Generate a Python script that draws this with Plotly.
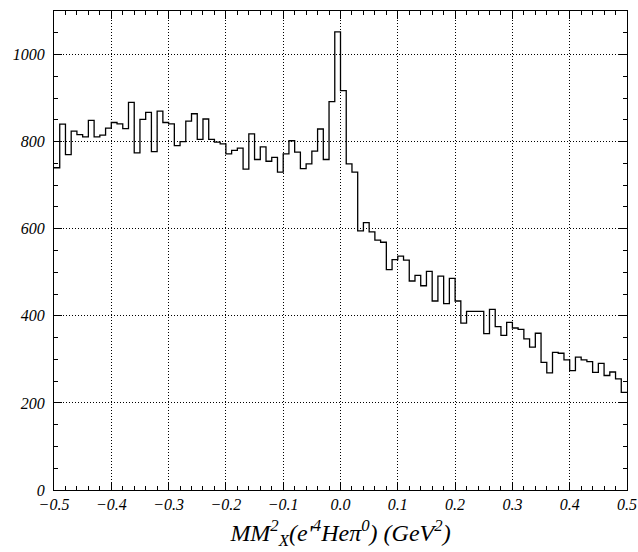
import plotly.graph_objects as go

# Histogram: 100 bins from -0.5 to 0.5 (width 0.01)
bin_start = -0.5
bin_width = 0.01
counts = [
    740, 840, 770, 824, 816, 811, 849, 811, 815, 831,
    844, 841, 830, 890, 774, 851, 867, 777, 870, 844,
    841, 791, 800, 847, 864, 805, 852, 805, 799, 795,
    772, 780, 785, 737, 818, 759, 788, 755, 764, 730,
    772, 802, 776, 738, 749, 778, 829, 759, 892, 1052,
    917, 749, 730, 595, 614, 593, 574, 569, 506, 529,
    537, 528, 480, 493, 469, 502, 434, 491, 428, 486,
    434, 383, 410, 410, 410, 359, 415, 375, 355, 385,
    372, 369, 347, 328, 360, 293, 269, 316, 314, 299,
    274, 305, 299, 295, 270, 291, 263, 271, 255, 224,
]
x_ticks = [-0.5, -0.4, -0.3, -0.2, -0.1, 0.0, 0.1, 0.2, 0.3, 0.4, 0.5]
y_ticks = [0, 200, 400, 600, 800, 1000]

edges = [round(bin_start + i * bin_width, 4) for i in range(len(counts) + 1)]
xs = edges
ys = counts + [counts[-1]]

font_family = "Liberation Serif"

fig = go.Figure()
fig.add_trace(go.Scatter(
    x=xs, y=ys, mode="lines", line=dict(shape="hv", color="black", width=1.3),
    hoverinfo="skip", showlegend=False,
))

fig.update_layout(
    width=638, height=552,
    margin=dict(l=54, r=11, t=11, b=62),
    paper_bgcolor="white", plot_bgcolor="white",
    font=dict(family=font_family, color="black"),
)
fig.update_xaxes(
    range=[-0.5, 0.5], tickvals=x_ticks, tickformat=".1f",
    ticks="inside", ticklen=8, tickwidth=1, tickcolor="black",
    minor=dict(dtick=0.02, ticks="inside", ticklen=4, tickcolor="black", showgrid=False),
    showline=True, linecolor="black", linewidth=1.2, mirror="allticks",
    showgrid=True, gridcolor="black", griddash="1px,2px", gridwidth=1,
    zeroline=False, automargin=False, ticklabeloverflow="allow",
    tickfont=dict(family=font_family, size=16, style="italic"),
    title=dict(
        text="MM<sup>2</sup><sub>X</sub>(e'<sup>4</sup>Heπ<sup>0</sup>) (GeV<sup>2</sup>)",
        font=dict(family=font_family, size=24, style="italic"), standoff=11,
    ),
)
fig.update_yaxes(
    range=[0, 1100], tickvals=y_ticks,
    ticks="inside", ticklen=8, tickwidth=1, tickcolor="black",
    minor=dict(dtick=50, ticks="inside", ticklen=4, tickcolor="black", showgrid=False),
    showline=True, linecolor="black", linewidth=1.2, mirror="allticks",
    showgrid=True, gridcolor="black", griddash="1px,2px", gridwidth=1,
    zeroline=False, automargin=False, ticklabelstandoff=5,
    tickfont=dict(family=font_family, size=16, style="italic"),
)

fig.write_html(
    "out.html",
    config={"displayModeBar": False},
    post_script="document.body.style.margin='0';document.body.style.overflow='hidden';",
)
